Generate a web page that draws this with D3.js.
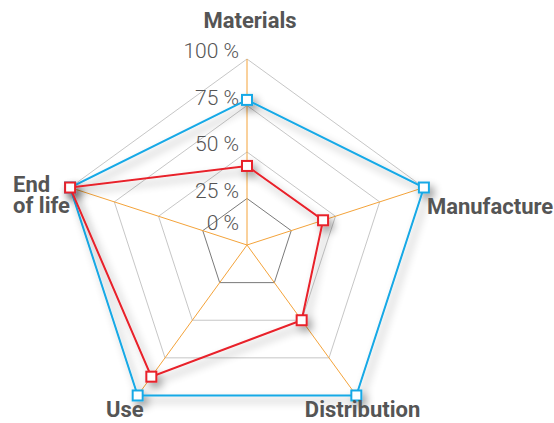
<!DOCTYPE html>
<html>
<head>
<meta charset="utf-8">
<script src="https://cdn.jsdelivr.net/npm/d3@7"></script>
<style>
  html, body { margin: 0; padding: 0; background: #fff; }
  svg { display: block; }
</style>
</head>
<body>
<div id="chart"></div>
<script>
// axes of the radar, clockwise from the top
const categories = ["Materials", "Manufacture", "Distribution", "Use", "End of life"];
const seriesBlue = [78, 100, 100, 100, 100];
const seriesRed = [42.5, 43, 50, 87.5, 100];
const gridLevels = [25, 50, 75, 100];
const tickLabels = [0, 25, 50, 75, 100];

const width = 554, height = 423;
const cx = 247, cy = 245;

const svg = d3.select("#chart").append("svg")
    .attr("width", width).attr("height", height);

const defs = svg.append("defs");
const shadow = defs.append("filter").attr("id", "shadow")
    .attr("x", "-20%").attr("y", "-20%").attr("width", "140%").attr("height", "140%");
shadow.append("feGaussianBlur").attr("in", "SourceAlpha").attr("stdDeviation", 4).attr("result", "b");
shadow.append("feOffset").attr("in", "b").attr("dx", 4).attr("dy", 5).attr("result", "o");
shadow.append("feComponentTransfer").attr("in", "o").attr("result", "s")
    .append("feFuncA").attr("type", "linear").attr("slope", 0.4);
const merge = shadow.append("feMerge");
merge.append("feMergeNode").attr("in", "s");
merge.append("feMergeNode").attr("in", "SourceGraphic");

const r = d3.scaleLinear().domain([0, 100]).range([0, 186]);
const angle = d3.scalePoint().domain(categories).range([0, 2 * Math.PI * 4 / 5]);

const pt = (cat, v) => {
    const a = angle(cat);
    return [cx + r(v) * Math.sin(a), cy - r(v) * Math.cos(a)];
};

const g = svg.append("g");

// grid pentagons
g.selectAll("path.ring").data(gridLevels).enter().append("path")
    .attr("class", "ring")
    .attr("d", lvl => d3.line()(categories.map(c => pt(c, lvl))) + "Z")
    .attr("fill", "none")
    .attr("stroke", lvl => lvl === 25 ? "#7a7a7a" : "#b8b8b8")
    .attr("stroke-width", lvl => lvl === 25 ? 1 : 0.8);

// spokes
g.selectAll("line.axis").data(categories).enter().append("line")
    .attr("class", "axis")
    .attr("x1", cx).attr("y1", cy)
    .attr("x2", c => pt(c, 100)[0]).attr("y2", c => pt(c, 100)[1])
    .attr("stroke", "#f4a33a").attr("stroke-width", 1);

// tick labels along the top axis
g.selectAll("text.tick").data(tickLabels).enter().append("text")
    .attr("class", "tick")
    .attr("x", 239)
    .attr("y", v => cy - r(v) + (v === 0 ? -15 : -1))
    .attr("text-anchor", "end")
    .attr("font-family", "Roboto, 'Open Sans', sans-serif")
    .attr("font-weight", 300)
    .attr("font-size", 21)
    .attr("fill", "#555")
    .text(v => v + " %");

// series
const series = [
    { values: seriesBlue, color: "#19a9e6" },
    { values: seriesRed, color: "#e8202a" }
];

series.forEach(s => {
    const pts = categories.map((c, i) => pt(c, s.values[i]));
    const sg = g.append("g").attr("filter", "url(#shadow)");
    sg.append("path")
        .attr("d", d3.line()(pts) + "Z")
        .attr("fill", "none")
        .attr("stroke", s.color)
        .attr("stroke-width", 2);
    sg.selectAll("rect").data(pts).enter().append("rect")
        .attr("x", d => d[0] - 5).attr("y", d => d[1] - 5)
        .attr("width", 10).attr("height", 10)
        .attr("fill", "#fff")
        .attr("stroke", s.color)
        .attr("stroke-width", 2);
});

// category labels
const labelPos = {
    "Materials": { dx: 3, dy: -31, anchor: "middle" },
    "Manufacture": { dx: 3, dy: 26, anchor: "start" },
    "Distribution": { dx: 64, dy: 22, anchor: "end" },
    "Use": { dx: 6, dy: 22, anchor: "end" },
    "End of life": { dx: -57, dy: 4, anchor: "start" }
};

categories.forEach(c => {
    const p = pt(c, 100), o = labelPos[c];
    const t = svg.append("text")
        .attr("x", p[0] + o.dx).attr("y", p[1] + o.dy)
        .attr("text-anchor", o.anchor)
        .attr("font-family", "Roboto, 'Open Sans', sans-serif")
        .attr("font-weight", 700)
        .attr("font-size", 22)
        .attr("fill", "#555");
    if (c === "End of life") {
        t.append("tspan").attr("x", p[0] + o.dx).text("End");
        t.append("tspan").attr("x", p[0] + o.dx).attr("dy", 21.5).text("of life");
    } else {
        t.text(c);
    }
});
</script>
</body>
</html>
